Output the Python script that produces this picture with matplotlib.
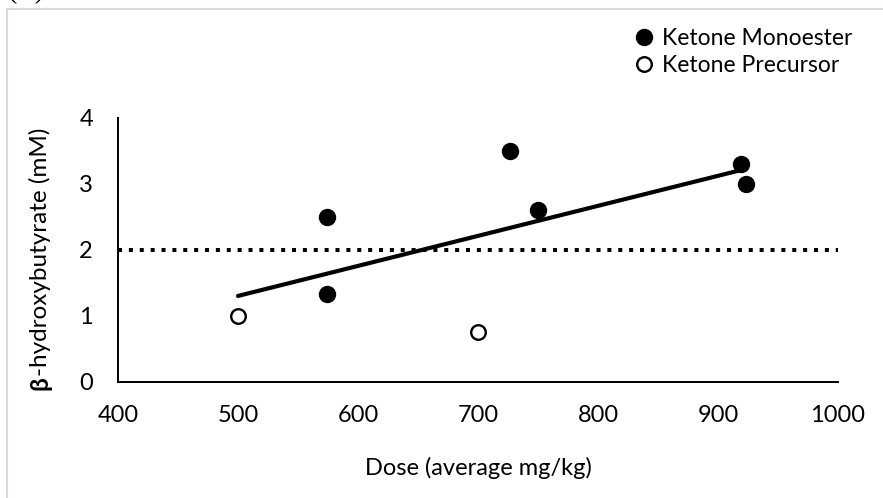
import matplotlib
matplotlib.use("Agg")
import matplotlib.pyplot as plt
import numpy as np
from matplotlib.patches import Rectangle

plt.rcParams['font.family'] = ['Lato', 'DejaVu Sans']

# Data
mono_dose = [574, 574, 727, 750, 919, 923]
mono_bhb = [2.50, 1.33, 3.50, 2.60, 3.30, 3.00]
prec_dose = [500, 700]
prec_bhb = [1.00, 0.75]
threshold = 2.0
x_ticks = [400, 500, 600, 700, 800, 900, 1000]
y_ticks = [0, 1, 2, 3, 4]

W, H = 883, 498
fig = plt.figure(figsize=(W / 100, H / 100), dpi=100)
ax = fig.add_axes([118 / W, (H - 381.7) / H, 720 / W, 264 / H])

# gray frame (partially cut)
fig.patches.append(Rectangle((7 / W, -0.1), 1.2, (H - 9) / H + 0.1, transform=fig.transFigure,
                             fill=False, edgecolor='#d9d9d9', linewidth=1.5))
fig.text(8 / W, (H + 2) / H, "(B)", fontsize=20, family=['Liberation Serif'], va='baseline', ha='left')

# threshold
ax.axhline(threshold, color='black', linewidth=2.9, linestyle=(0, (1, 1.7)), dash_capstyle='butt', zorder=2)

# trendline over all points
all_x = np.array(mono_dose + prec_dose, dtype=float)
all_y = np.array(mono_bhb + prec_bhb, dtype=float)
k, b = np.polyfit(all_x, all_y, 1)
xs = np.array([all_x.min(), all_x.max()])
ax.plot(xs, k * xs + b, color='black', linewidth=3.0, solid_capstyle='round', zorder=3)

ax.plot(mono_dose, mono_bhb, 'o', color='black', markersize=11.5, zorder=4, label='Ketone Monoester')
ax.plot(prec_dose, prec_bhb, 'o', markerfacecolor='white', markeredgecolor='black',
        markeredgewidth=1.7, markersize=10.5, zorder=4, label='Ketone Precursor')

ax.set_xlim(400, 1000)
ax.set_ylim(0, 4)
ax.set_xticks(x_ticks)
ax.set_yticks(y_ticks)
ax.tick_params(length=0, labelsize=17)
ax.tick_params(axis='x', pad=17)
ax.tick_params(axis='y', pad=18)
for s in ['top', 'right']:
    ax.spines[s].set_visible(False)
for s in ['left', 'bottom']:
    ax.spines[s].set_linewidth(1.4)

ax.set_xlabel('Dose (average mg/kg)', fontsize=17, labelpad=22)

# y label with bold beta
fig.canvas.draw()
r = fig.canvas.get_renderer()
ylx = 40 / W
t1 = fig.text(ylx, (H - 390) / H, 'β', rotation=90, fontsize=17.5, fontweight='bold',
              ha='center', va='bottom')
bb = t1.get_window_extent(r)
fig.text(ylx, bb.y1 / H, '-hydroxybutyrate (mM)', rotation=90, fontsize=17.5,
         ha='center', va='bottom')

leg = ax.legend(loc='upper left', bbox_to_anchor=(621 / W, (H - 17) / H), bbox_transform=fig.transFigure,
                frameon=False, fontsize=16.5, handletextpad=0.3, labelspacing=0.25, borderpad=0,
                handlelength=1.0)

fig.savefig('out.png', dpi=100)
